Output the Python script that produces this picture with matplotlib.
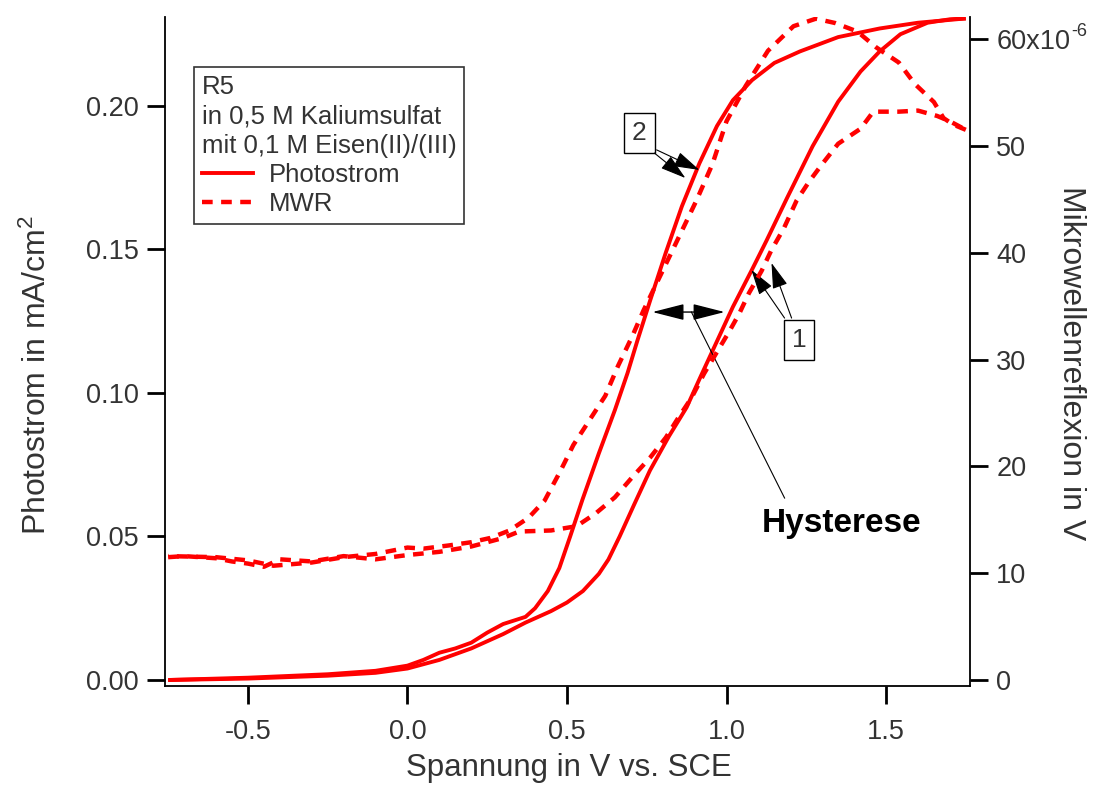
import numpy as np
import matplotlib
matplotlib.use("Agg")
import matplotlib.pyplot as plt
from matplotlib.lines import Line2D
from matplotlib.ticker import FuncFormatter

plt.rcParams['font.family'] = ['Liberation Sans', 'DejaVu Sans']
plt.rcParams['mathtext.default'] = 'regular'

# Photostrom (mA/cm^2), two scan branches
photo_a_x = [-0.75, -0.5, -0.25, -0.1, 0.0, 0.05, 0.1, 0.15, 0.2, 0.25, 0.3, 0.37, 0.45, 0.5,
             0.55, 0.6, 0.63, 0.665, 0.71, 0.76, 0.82, 0.875, 0.92, 0.97, 1.02, 1.08, 1.125,
             1.19, 1.27, 1.35, 1.42, 1.48, 1.545, 1.63, 1.70, 1.75]
photo_a_y = [0.0, 0.0005, 0.0015, 0.0025, 0.004, 0.0055, 0.007, 0.009, 0.011, 0.0135, 0.016,
             0.020, 0.024, 0.027, 0.031, 0.037, 0.042, 0.050, 0.061, 0.073, 0.085, 0.095, 0.106,
             0.118, 0.130, 0.143, 0.153, 0.168, 0.186, 0.2015, 0.212, 0.219, 0.225, 0.229,
             0.2302, 0.2305]
photo_b_x = [1.75, 1.6, 1.48, 1.35, 1.23, 1.15, 1.08, 1.02, 0.97, 0.915, 0.86, 0.81, 0.76, 0.72,
             0.69, 0.65, 0.60, 0.549, 0.51, 0.476, 0.44, 0.40, 0.37, 0.3, 0.25, 0.2, 0.15, 0.1,
             0.05, 0.0, -0.1, -0.25, -0.5, -0.75]
photo_b_y = [0.2305, 0.229, 0.227, 0.224, 0.219, 0.215, 0.209, 0.202, 0.193, 0.180, 0.165,
             0.149, 0.132, 0.118, 0.107, 0.094, 0.079, 0.063, 0.050, 0.039, 0.031, 0.025, 0.022,
             0.0195, 0.0165, 0.013, 0.011, 0.0095, 0.007, 0.005, 0.0032, 0.002, 0.0008, 0.0]

# Mikrowellenreflexion (x10^-6 V), two scan branches
mwr_a_x = [-0.75, -0.7, -0.6, -0.55, -0.5, -0.45, -0.4, -0.3, -0.2, -0.1, 0.0, 0.1, 0.2, 0.3,
           0.35, 0.45, 0.53, 0.59, 0.65, 0.705, 0.76, 0.81, 0.85, 0.89, 0.93, 0.97, 1.01, 1.04,
           1.07, 1.11, 1.14, 1.18, 1.22, 1.26, 1.30, 1.35, 1.42, 1.46, 1.54, 1.60, 1.66, 1.70, 1.75]
mwr_a_y = [11.5, 11.6, 11.4, 11.1, 10.9, 10.6, 11.3, 11.1, 11.6, 11.3, 11.7, 12.0, 12.5, 13.3,
           13.9, 14.0, 14.4, 15.6, 17.1, 19.0, 20.8, 22.7, 24.6, 26.4, 28.7, 30.7, 32.7, 34.3,
           36.2, 38.3, 40.2, 42.3, 44.9, 46.7, 48.3, 50.2, 51.6, 53.2, 53.2, 53.3, 52.8, 52.3, 51.5]
mwr_b_x = [1.75, 1.71, 1.68, 1.65, 1.59, 1.54, 1.47, 1.41, 1.34, 1.28, 1.21, 1.13, 1.06, 1.0,
           0.956, 0.906, 0.84, 0.79, 0.74, 0.705, 0.66, 0.62, 0.57, 0.52, 0.48, 0.43, 0.38, 0.32,
           0.26, 0.2, 0.13, 0.05, 0.0, -0.1, -0.2, -0.3, -0.42, -0.5, -0.6, -0.75]
mwr_b_y = [51.5, 52.0, 52.6, 54.1, 55.8, 57.8, 59.2, 60.7, 61.5, 61.9, 61.2, 58.9, 55.6, 52.3,
           48.3, 44.9, 40.8, 37.7, 34.6, 32.2, 29.4, 26.6, 24.3, 22.0, 19.6, 16.8, 15.2, 14.0,
           13.3, 12.9, 12.6, 12.3, 12.4, 11.8, 11.5, 11.0, 10.7, 11.2, 11.5, 11.6]

red = '#ff0000'
grey = '#333333'

fig = plt.figure(figsize=(10.96, 7.87), dpi=100)
ax = fig.add_axes([0.1505, 0.1283, 0.7345, 0.8501])
ax2 = ax.twinx()

ax.plot(photo_a_x, photo_a_y, color=red, lw=2.8, solid_capstyle='butt')
ax.plot(photo_b_x, photo_b_y, color=red, lw=2.8, solid_capstyle='butt')
mwr_scale = 1e-6
ax2.plot(mwr_a_x, np.array(mwr_a_y) * mwr_scale, color=red, lw=3.2, ls=(0, (2.4, 1.9)))
ax2.plot(mwr_b_x, np.array(mwr_b_y) * mwr_scale, color=red, lw=3.2, ls=(0, (2.4, 1.9)))

ax.set_xlim(-0.76, 1.763)
ax.set_ylim(-0.0021, 0.2310)
ax2.set_ylim(-0.56e-6, 62.06e-6)

ax.set_xticks([-0.5, 0.0, 0.5, 1.0, 1.5])
ax.set_yticks([0.0, 0.05, 0.10, 0.15, 0.20])
ax.xaxis.set_major_formatter(FuncFormatter(lambda v, p: '%.1f' % v))
ax.yaxis.set_major_formatter(FuncFormatter(lambda v, p: '%.2f' % v))
ax2.set_yticks(np.arange(0, 61, 10) * 1e-6)


def right_fmt(v, p):
    n = int(round(v * 1e6))
    if n == 60:
        return '60x10'
    return str(n)


ax2.yaxis.set_major_formatter(FuncFormatter(right_fmt))

for a in (ax, ax2):
    a.spines['top'].set_visible(False)
    for s in a.spines.values():
        s.set_linewidth(1.3)
    a.tick_params(direction='out', length=13, width=2, labelsize=19.5, labelcolor=grey, pad=6)
ax.spines['right'].set_visible(False)
ax2.spines['left'].set_visible(False)
ax2.spines['bottom'].set_visible(False)
ax.tick_params(axis='x', pad=11)

fig.text(0.519, 0.024, 'Spannung in V vs. SCE', fontsize=22.5, color=grey, ha='center',
         va='center')
fig.text(0.034, 0.523, 'Photostrom in mA/cm$^{2}$', fontsize=23, color=grey, ha='center',
         va='center', rotation=90)
fig.text(0.977, 0.539, 'Mikrowellenreflexion in V', fontsize=23, color=grey, ha='center',
         va='center', rotation=270)

# legend
handles = [Line2D([], [], color=red, lw=2.8),
           Line2D([], [], color=red, lw=3.2, ls=(0, (2.4, 1.9)))]
leg = fig.legend(handles, ['Photostrom', 'MWR'],
                 title='R5\nin 0,5 M Kaliumsulfat\nmit 0,1 M Eisen(II)/(III)',
                 loc='upper left', bbox_to_anchor=(194 / 1096, 1 - 67 / 787),
                 bbox_transform=fig.transFigure, borderaxespad=0, fontsize=18.5,
                 title_fontsize=18.5, alignment='left', frameon=True, fancybox=False,
                 handlelength=2.0, handletextpad=0.6, borderpad=0.3, labelspacing=0.2)
leg.get_frame().set_edgecolor('black')
leg.get_frame().set_linewidth(1.2)
for t in leg.get_texts():
    t.set_color(grey)
leg.get_title().set_color(grey)
leg.get_title().set_linespacing(1.3)

# annotations
arrow_kw = dict(arrowstyle='-|>,head_length=1.0,head_width=0.3', color='black', lw=0.8,
                mutation_scale=16, shrinkA=0, shrinkB=0)
ax.annotate('', xy=(0.768, 0.1282), xytext=(0.994, 0.1282),
            arrowprops=dict(arrowstyle='<|-|>,head_length=1.1,head_width=0.28', color='black',
                            lw=1.0, mutation_scale=18, shrinkA=0, shrinkB=0))
ax.plot([0.890, 1.182], [0.1282, 0.0634], color='black', lw=0.8)
ax.text(1.11, 0.0544, 'Hysterese', fontsize=24, fontweight='bold', color='black',
        ha='left', va='center')

ax.text(1.228, 0.1185, '1', fontsize=19, color=grey, ha='center', va='center',
        bbox=dict(boxstyle='square,pad=0.3', fc='white', ec='black', lw=1.0))
ax.annotate('', xy=(1.078, 0.1429), xytext=(1.182, 0.1261), arrowprops=arrow_kw)
ax.annotate('', xy=(1.141, 0.1453), xytext=(1.204, 0.1261), arrowprops=arrow_kw)

ax.text(0.727, 0.1905, '2', fontsize=19, color=grey, ha='center', va='center',
        bbox=dict(boxstyle='square,pad=0.3', fc='white', ec='black', lw=1.0))
ax.annotate('', xy=(0.915, 0.1777), xytext=(0.781, 0.1847), arrowprops=arrow_kw)
ax.annotate('', xy=(0.871, 0.1749), xytext=(0.774, 0.1836), arrowprops=arrow_kw)

# exponent of the top right tick label
fig.canvas.draw()
top_lab = [t for t in ax2.yaxis.get_ticklabels() if t.get_text() == '60x10'][0]
bb = top_lab.get_window_extent()
fig.text((bb.x1 + 1) / fig.bbox.width, (bb.y1 - 2) / fig.bbox.height, '-6', fontsize=13,
         color=grey, ha='left', va='center')

fig.savefig('out.png', dpi=100)
